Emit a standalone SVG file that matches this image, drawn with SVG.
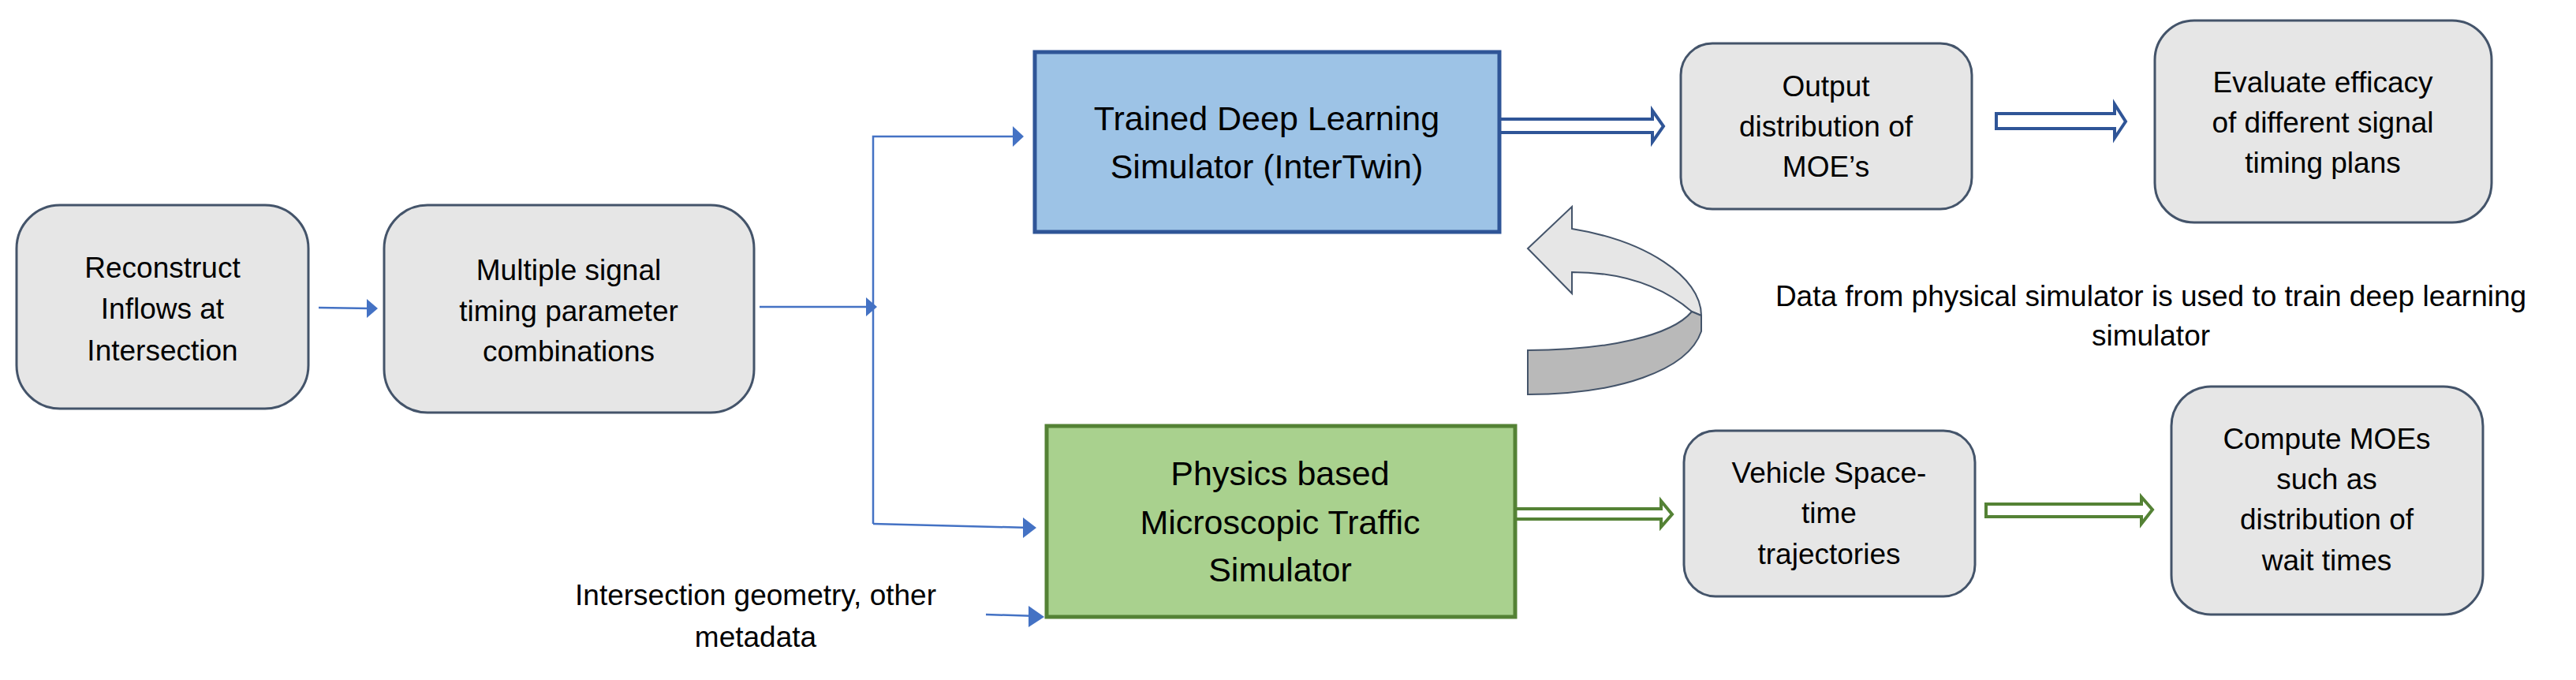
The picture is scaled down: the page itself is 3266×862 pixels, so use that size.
<svg xmlns="http://www.w3.org/2000/svg" width="3266" height="862" viewBox="0 0 3266 862">
<style>
.g{fill:#e6e6e6;stroke:#44546a;stroke-width:3}
.t{font-family:"Liberation Sans",Arial,sans-serif;font-size:37px;text-anchor:middle;fill:#000}
.big{font-size:43px}
.c{stroke:#4472c4;stroke-width:2.5;fill:none}
.h{fill:#4472c4}
</style>
<rect width="3266" height="862" fill="#fff"/>
<g id="connectors">
<path class="c" d="M404,390 L470,391"/>
<path class="h" d="M465,379 L479,391 L465,403 Z"/>
<path class="c" d="M963,389 L1105,389"/>
<path class="h" d="M1098,377 L1112,389 L1098,401 Z"/>
<path class="c" d="M1107,664 L1107,173 L1292,173"/>
<path class="h" d="M1284,160 L1298,173 L1284,186 Z"/>
<path class="c" d="M1107,664 L1305,669"/>
<path class="h" d="M1297,656 L1314,669 L1297,682 Z"/>
<path class="c" d="M1250,779 L1315,781"/>
<path class="h" d="M1304,768 L1324,782 L1304,795 Z"/>
<path d="M1901,151 L2095,151 L2095,140 L2109,160 L2095,180 L2095,168 L1901,168 Z" fill="#fff" stroke="#2f5597" stroke-width="4"/>
<path d="M2531,144 L2681,144 L2681,132 L2695,154 L2681,175 L2681,163 L2531,163 Z" fill="#fff" stroke="#2f5597" stroke-width="4"/>
<path d="M1912,645 L2106,645 L2106,635 L2120,652 L2106,668 L2106,658 L1912,658 Z" fill="#fff" stroke="#548235" stroke-width="4"/>
<path d="M2518,639 L2715,639 L2715,630 L2729,646 L2715,664 L2715,655 L2518,655 Z" fill="#fff" stroke="#548235" stroke-width="4"/>
<path d="M1937,315 L1993,262 L1993,290 C2085,305 2157,350 2157,400 L2145,395 C2110,365 2060,345 1993,345 L1993,372 Z" fill="#e6e6e6" stroke="#44546a" stroke-width="2"/>
<path d="M1937,444 C2040,444 2120,425 2145,395 L2157,400 L2157,420 C2140,470 2050,500 1937,500 Z" fill="#b9b9b9" stroke="#44546a" stroke-width="2"/>
</g>
<g id="n1"><rect class="g" x="21" y="260" width="370" height="258" rx="55"/>
<text class="t" x="206" y="352">Reconstruct</text><text class="t" x="206" y="404">Inflows at</text><text class="t" x="206" y="457">Intersection</text></g>
<g id="n2"><rect class="g" x="487" y="260" width="469" height="263" rx="55"/>
<text class="t" x="721" y="355">Multiple signal</text><text class="t" x="721" y="407">timing parameter</text><text class="t" x="721" y="458">combinations</text></g>
<g id="n3"><rect x="1312" y="66" width="589" height="228" fill="#9dc3e6" stroke="#2f5597" stroke-width="5"/>
<text class="t big" x="1606" y="165">Trained Deep Learning</text><text class="t big" x="1606" y="226">Simulator (InterTwin)</text></g>
<g id="n4"><rect x="1327" y="540" width="594" height="242" fill="#a9d18e" stroke="#548235" stroke-width="5"/>
<text class="t big" x="1623" y="615">Physics based</text><text class="t big" x="1623" y="677">Microscopic Traffic</text><text class="t big" x="1623" y="737">Simulator</text></g>
<g id="n5"><rect class="g" x="2131" y="55" width="369" height="210" rx="40"/>
<text class="t" x="2315" y="122">Output</text><text class="t" x="2315" y="173">distribution of</text><text class="t" x="2315" y="224">MOE’s</text></g>
<g id="n6"><rect class="g" x="2732" y="26" width="427" height="256" rx="50"/>
<text class="t" x="2945" y="117">Evaluate efficacy</text><text class="t" x="2945" y="168">of different signal</text><text class="t" x="2945" y="219">timing plans</text></g>
<g id="n7"><rect class="g" x="2135" y="546" width="369" height="210" rx="40"/>
<text class="t" x="2319" y="612">Vehicle Space-</text><text class="t" x="2319" y="663">time</text><text class="t" x="2319" y="715">trajectories</text></g>
<g id="n8"><rect class="g" x="2753" y="490" width="395" height="289" rx="50"/>
<text class="t" x="2950" y="569">Compute MOEs</text><text class="t" x="2950" y="620">such as</text><text class="t" x="2950" y="671">distribution of</text><text class="t" x="2950" y="723">wait times</text></g>
<g id="labels">
<text class="t" x="2727" y="388">Data from physical simulator is used to train deep learning</text>
<text class="t" x="2727" y="438">simulator</text>
<text class="t" x="958" y="767">Intersection geometry, other</text>
<text class="t" x="958" y="820">metadata</text>
</g>
</svg>
